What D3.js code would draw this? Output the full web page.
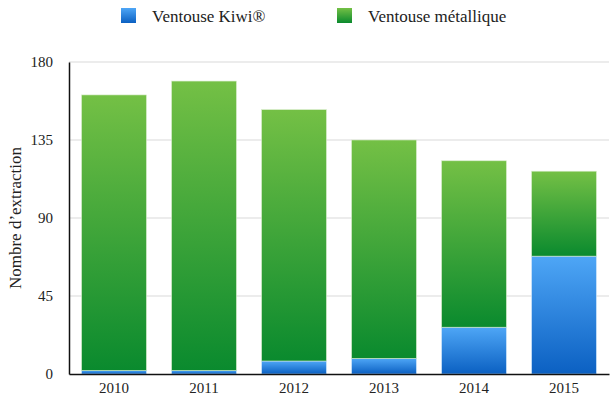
<!DOCTYPE html>
<html>
<head>
<meta charset="UTF-8" />
<script src="https://d3js.org/d3.v7.min.js"></script>
<style>
  body { margin: 0; background: #fff; }
  text { font-family: "Liberation Serif", "Times New Roman", serif; fill: #222; }
</style>
</head>
<body>
<svg id="chart" width="613" height="399"></svg>
<script>
// data
var years = ["2010", "2011", "2012", "2013", "2014", "2015"];
var kiwi = [2, 2, 7.5, 9, 27, 68];
var metal = [159, 167, 145, 126, 96, 49];
var yTicks = [0, 45, 90, 135, 180];
var seriesNames = ["Ventouse Kiwi®", "Ventouse métallique"];

var svg = d3.select("#chart");
var margin = { left: 69, right: 4, top: 62, bottom: 25 };
var W = 613, H = 399;
var serif = "'Liberation Serif', 'Times New Roman', serif";

var x = d3.scaleBand().domain(years).range([margin.left, W - margin.right]).paddingInner(0.28).paddingOuter(0.14);
var y = d3.scaleLinear().domain([0, 180]).range([H - margin.bottom, margin.top]);

// gradients
var defs = svg.append("defs");
function grad(id, top, bottom) {
  var g = defs.append("linearGradient").attr("id", id).attr("x1", 0).attr("y1", 0).attr("x2", 0).attr("y2", 1);
  g.append("stop").attr("offset", "0%").attr("stop-color", top);
  g.append("stop").attr("offset", "100%").attr("stop-color", bottom);
}
grad("gGreen", "#74c045", "#0a8a2e");
grad("gBlue", "#4ea6f6", "#0b60c2");

// gridlines
svg.append("g").selectAll("line").data(yTicks.filter(function (d) { return d > 0; })).enter()
  .append("line")
  .attr("x1", margin.left).attr("x2", W - margin.right)
  .attr("y1", function (d) { return y(d); }).attr("y2", function (d) { return y(d); })
  .attr("stroke", "#d9d9d9").attr("stroke-width", 1);

// bars
var rows = years.map(function (yr, i) { return { year: yr, kiwi: kiwi[i], metal: metal[i] }; });
var bars = svg.append("g");
bars.selectAll("rect.k").data(rows).enter().append("rect")
  .attr("x", function (d) { return x(d.year); })
  .attr("width", x.bandwidth())
  .attr("y", function (d) { return y(d.kiwi); })
  .attr("height", function (d) { return y(0) - y(d.kiwi); })
  .attr("fill", "url(#gBlue)")
  .attr("stroke", "#cfe6fb").attr("stroke-width", 0.6);
bars.selectAll("rect.m").data(rows).enter().append("rect")
  .attr("x", function (d) { return x(d.year); })
  .attr("width", x.bandwidth())
  .attr("y", function (d) { return y(d.kiwi + d.metal); })
  .attr("height", function (d) { return y(d.kiwi) - y(d.kiwi + d.metal); })
  .attr("fill", "url(#gGreen)")
  .attr("stroke", "#d6ecc8").attr("stroke-width", 0.6);

// axes
var yAxis = svg.append("g").attr("transform", "translate(" + margin.left + ",0)")
  .call(d3.axisLeft(y).tickValues(yTicks).tickSize(0).tickPadding(16));
yAxis.attr("font-family", serif);
yAxis.select(".domain").attr("stroke", "#111").attr("stroke-width", 1.5);
yAxis.selectAll("text").style("font-size", "15px").style("font-family", serif).attr("fill", "#222");

var xAxis = svg.append("g").attr("transform", "translate(0," + y(0) + ")")
  .call(d3.axisBottom(x).tickSize(0).tickPadding(8));
xAxis.attr("font-family", serif);
xAxis.select(".domain").attr("stroke", "#111").attr("stroke-width", 1.5);
xAxis.selectAll("text").style("font-size", "15px").style("font-family", serif).attr("fill", "#222");

// y label
svg.append("text")
  .attr("transform", "translate(15," + ((y(0) + y(180)) / 2) + ") rotate(-90)")
  .attr("text-anchor", "middle").attr("dy", "0.35em")
  .style("font-size", "17px")
  .text("Nombre d\u2019extraction");

// legend
var legend = svg.append("g");
var legX = [121, 337];
var legFill = ["url(#gBlue)", "url(#gGreen)"];
seriesNames.forEach(function (name, i) {
  legend.append("rect").attr("x", legX[i]).attr("y", 8).attr("width", 15).attr("height", 15).attr("fill", legFill[i]);
  legend.append("text").attr("x", legX[i] + 31).attr("y", 16).attr("dy", "0.35em")
    .style("font-size", "17px").text(name);
});
</script>
</body>
</html>
